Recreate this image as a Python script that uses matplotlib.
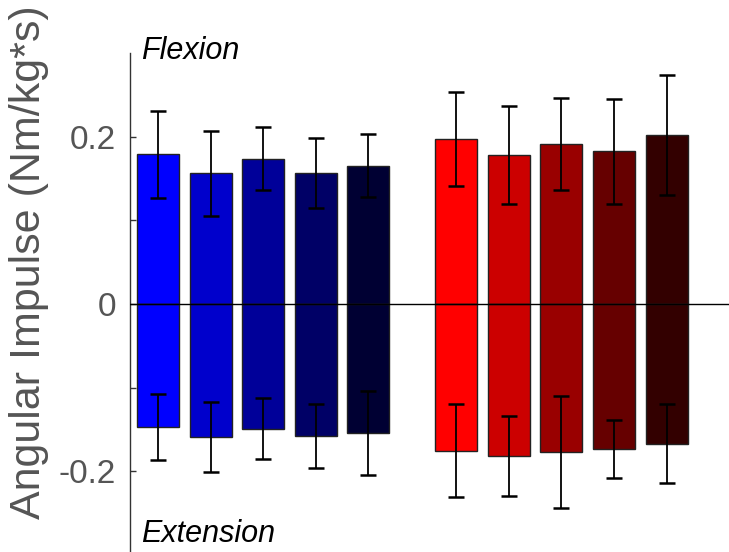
import matplotlib

matplotlib.use("Agg")
import matplotlib.pyplot as plt
import numpy as np

plt.rcParams["font.family"] = ["Liberation Sans", "DejaVu Sans"]

# flexion (positive) and extension (negative) impulse, blue group then red group
positions = [1, 2, 3, 4, 5, 6.67, 7.67, 8.67, 9.67, 10.67]
flexion = [0.179, 0.156, 0.1735, 0.157, 0.1655, 0.1975, 0.178, 0.1915, 0.1825, 0.202]
flexion_err = [0.052, 0.051, 0.0375, 0.042, 0.038, 0.056, 0.0585, 0.0547, 0.063, 0.072]
extension = [-0.147, -0.159, -0.149, -0.1575, -0.154, -0.1755, -0.182, -0.177, -0.1735, -0.167]
extension_err = [0.039, 0.042, 0.0365, 0.038, 0.05, 0.0554, 0.048, 0.067, 0.0344, 0.047]
colors = ["#0000ff", "#0000cc", "#000099", "#000066", "#000033",
          "#ff0000", "#cc0000", "#990000", "#660000", "#330000"]
yticks = [-0.2, -0.1, 0, 0.1, 0.2]
yticklabels = ["-0.2", "", "0", "", "0.2"]

W, H = 729, 552
fig = plt.figure(figsize=(W / 100, H / 100), dpi=100)
ax = fig.add_axes([130 / W, -3 / H, 1 - 130 / W, 502 / H])

for vals, errs in [(flexion, flexion_err), (extension, extension_err)]:
    ax.bar(positions, vals, width=0.8, color=colors, edgecolor="#222222", linewidth=1.0, zorder=2)
    ax.errorbar(positions, vals, yerr=errs, fmt="none", ecolor="black", elinewidth=1.3,
                capsize=6.1, capthick=1.8, zorder=3)

ax.axhline(0, color="black", linewidth=1.0, zorder=4)

ax.set_xlim(0.468, 11.855)
ax.set_ylim(-0.3, 0.3)
ax.set_yticks(yticks)
ax.set_yticklabels(yticklabels)
ax.set_xticks([])
for side in ["top", "right", "bottom"]:
    ax.spines[side].set_visible(False)
ax.spines["left"].set_color("#333333")
ax.spines["left"].set_linewidth(1.0)
ax.tick_params(axis="y", direction="in", length=4.5, width=1.0, color="#333333",
               labelsize=24, labelcolor="#555555", pad=10)

fig.text(29 / W, 1 - 519 / H, "Angular Impulse (Nm/kg*s)", rotation=90, ha="center",
         va="bottom", fontsize=31, color="#555555")
fig.text(141 / W, 1 - 59 / H, "Flexion", fontsize=22, style="italic", color="black",
         ha="left", va="baseline")
fig.text(141 / W, 1 - 542 / H, "Extension", fontsize=22, style="italic", color="black",
         ha="left", va="baseline")

fig.savefig("out.png", dpi=100)
